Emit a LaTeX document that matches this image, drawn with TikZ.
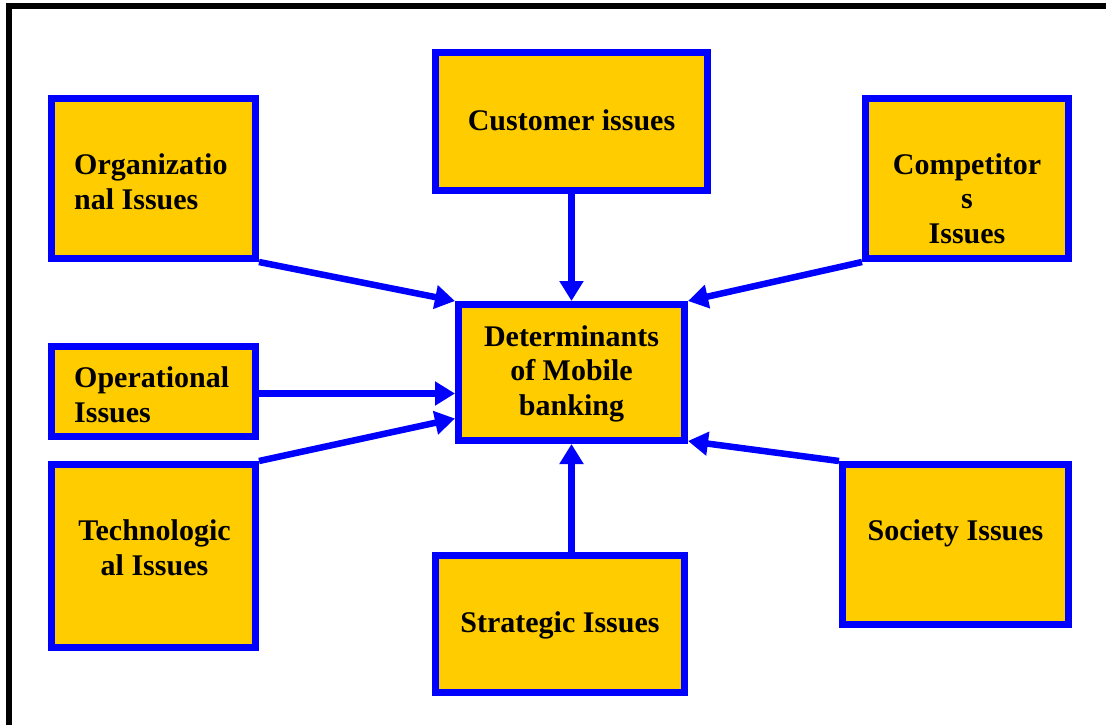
\documentclass[tikz,border=0pt]{standalone}
\usepackage{fontspec}
\setmainfont{Liberation Serif}
\usetikzlibrary{arrows.meta,calc}
\definecolor{boxfill}{RGB}{255,204,0}
\definecolor{boxline}{RGB}{0,0,255}
\begin{document}
\begin{tikzpicture}[x=1pt,y=1pt,yscale=-1,
  issuebox/.style={draw=boxline, fill=boxfill, line width=7pt, inner sep=0pt,
    rectangle, anchor=center},
  lbl/.style={inner sep=0pt, font=\fontsize{30}{34.5}\selectfont\bfseries},
  link/.style={draw=boxline, line width=6.5pt,
    -{Triangle[length=20pt,width=23pt]}}]
  % page area
  \useasboundingbox (0,0) rectangle (1106,725);
  % outer frame (top and left edges)
  \draw[line width=6pt, line join=miter] (9,725) -- (9,6) -- (1106,6);

  % boxes
  \node[issuebox, minimum width=204pt, minimum height=160pt] (org)   at (153.5,178.5) {};
  \node[issuebox, minimum width=272pt, minimum height=138pt] (cust)  at (571.5,121.5) {};
  \node[issuebox, minimum width=203pt, minimum height=160pt] (comp)  at (967,178.5)   {};
  \node[issuebox, minimum width=204pt, minimum height=90pt]  (op)    at (153.5,391.5) {};
  \node[issuebox, minimum width=226pt, minimum height=136pt] (cen)   at (571.5,372.5) {};
  \node[issuebox, minimum width=204pt, minimum height=183pt] (tech)  at (153.5,556)   {};
  \node[issuebox, minimum width=249pt, minimum height=137pt] (strat) at (560,624)     {};
  \node[issuebox, minimum width=226pt, minimum height=160pt] (soc)   at (955.5,544.5) {};

  % labels (anchored at the baseline of the last line)
  \node[lbl, anchor=base west, align=left]  (orgT)   at (74,209)    {Organizatio\\nal Issues};
  \node[lbl, anchor=base]                   (custT)  at (571.5,130) {Customer issues};
  \node[lbl, anchor=base, align=center]     (compT)  at (967,243)   {Competitor\\s\\Issues};
  \node[lbl, anchor=base west, align=left]  (opT)    at (74,422)    {Operational\\Issues};
  \node[lbl, anchor=base, align=center]     (cenT)   at (571.5,415) {Determinants\\of Mobile\\banking};
  \node[lbl, anchor=base, align=center]     (techT)  at (154.5,575) {Technologic\\al Issues};
  \node[lbl, anchor=base]                   (stratT) at (560,632)   {Strategic Issues};
  \node[lbl, anchor=base]                   (socT)   at (955.5,540) {Society Issues};

  % connectors into the central box
  \draw[link] (org.south east)  -- (cen.north west);
  \draw[link] (cust.south)      -- (cen.north);
  \draw[link] (comp.south west) -- (cen.north east);
  \draw[link] ($(op.east)+(0,2)$) -- ($(op.east -| cen.west)+(0,2)$);
  \draw[link] (tech.north east) -- ($(cen.west)+(0,46)$);
  \draw[link] (cen.south |- strat.north) -- (cen.south);
  \draw[link] (soc.north west)  -- ($(cen.south east)+(0,-3)$);
\end{tikzpicture}
\end{document}
